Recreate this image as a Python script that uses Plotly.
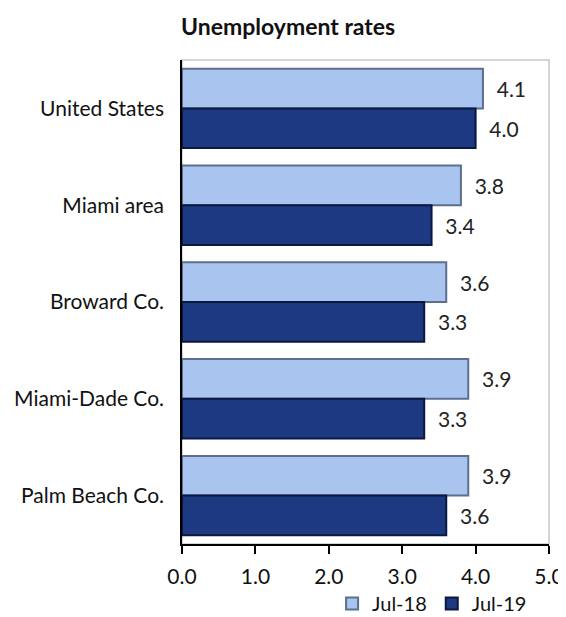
import plotly.graph_objects as go

categories = ["United States", "Miami area", "Broward Co.", "Miami-Dade Co.", "Palm Beach Co."]
jul18 = [4.1, 3.8, 3.6, 3.9, 3.9]
jul19 = [4.0, 3.4, 3.3, 3.3, 3.6]
tick_vals = [0, 1, 2, 3, 4, 5]
tick_text = ["0.0", "1.0", "2.0", "3.0", "4.0", "5.0"]

FONT = "Lato, 'Open Sans', sans-serif"

fig = go.Figure()
fig.add_trace(go.Bar(
    y=categories, x=jul18, orientation="h", name="Jul-18",
    marker=dict(color="#a9c4ef", line=dict(color="#5c6f8f", width=2)),
    text=[f"  {v:.1f}" for v in jul18], textposition="outside",
    textfont=dict(size=21, color="#222"), cliponaxis=False,
))
fig.add_trace(go.Bar(
    y=categories, x=jul19, orientation="h", name="Jul-19",
    marker=dict(color="#1d3982", line=dict(color="#0b1840", width=2)),
    text=[f"  {v:.1f}" for v in jul19], textposition="outside",
    textfont=dict(size=21, color="#222"), cliponaxis=False,
))

fig.update_layout(
    width=558, height=609,
    margin=dict(l=174, r=17, t=52, b=73),
    paper_bgcolor="white", plot_bgcolor="white",
    font=dict(family=FONT, size=21, color="#111"),
    title=dict(text="<b>Unemployment rates</b>", x=0.502, xref="container", xanchor="center",
               y=0.969, yref="container", yanchor="middle", font=dict(size=23, color="#111")),
    barmode="group", bargap=0.18, bargroupgap=0.0,
    showlegend=True,
    legend=dict(orientation="h", x=0.76, xref="container", xanchor="center",
                y=0.022, yref="container", yanchor="middle",
                font=dict(size=20), traceorder="normal", tracegroupgap=0),
    xaxis=dict(range=[0, 5], tickvals=tick_vals, ticktext=tick_text, showgrid=False,
               showline=True, linecolor="black", linewidth=1.5, ticks="outside",
               ticklen=8, tickcolor="black", tickwidth=1.5, zeroline=False,
               tickfont=dict(size=21), ticklabelstandoff=5, automargin=False),
    yaxis=dict(autorange="reversed", showline=True, linecolor="black", linewidth=1.5,
               showgrid=False, ticks="", tickfont=dict(size=21), ticklabelstandoff=12,
               automargin=False),
    shapes=[dict(type="rect", xref="x domain", yref="y domain", x0=0, x1=1, y0=0, y1=1,
                 line=dict(color="#c8c8c8", width=1.5), layer="below")],
)

fig.write_html("out.html")
